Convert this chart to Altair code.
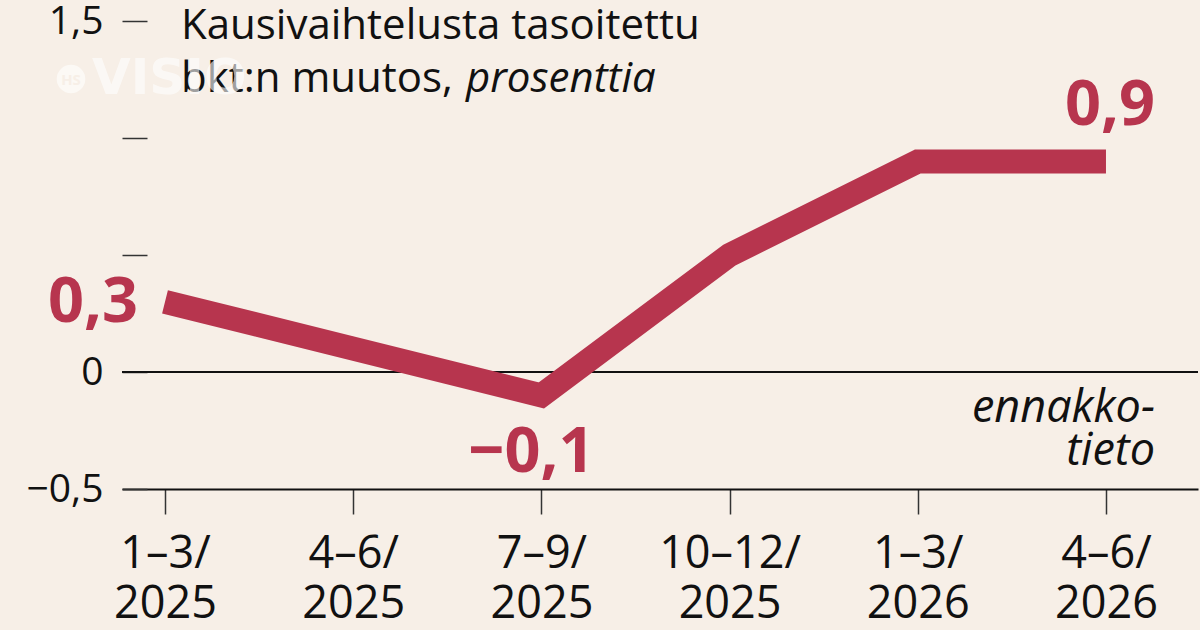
import json
import altair as alt
import pandas as pd

# Quarterly, seasonally adjusted GDP change (%)
quarters = ["1–3/|2025", "4–6/|2025", "7–9/|2025", "10–12/|2025", "1–3/|2026", "4–6/|2026"]
gdp_change = [0.3, 0.1, -0.1, 0.5, 0.9, 0.9]
y_tick_values = [1.5, 1.0, 0.5, 0.0, -0.5]
y_labelled = [1.5, 0.0, -0.5]

title_line1 = "Kausivaihtelusta tasoitettu"
title_line2a = "bkt:n muutos,"
title_line2b = "prosenttia"
note_lines = ["ennakko-", "tieto"]

BG = "#f7efe7"
RED = "#b7354e"
INK = "#111111"
FONT = "Open Sans"

df = pd.DataFrame({"i": list(range(len(gdp_change))), "value": gdp_change})

x_scale = alt.Scale(domain=[-0.2285, 5.489], nice=False, zero=False)
y_scale = alt.Scale(domain=[-0.5, 1.5], nice=False, zero=False)

quarter_js = json.dumps(quarters, ensure_ascii=False)
x_axis = alt.Axis(
    values=list(range(len(quarters))),
    labelExpr=f"split({quarter_js}[datum.value], '|')",
    title=None, grid=False,
    domain=True, domainColor=INK, domainWidth=2,
    ticks=True, tickSize=25, tickColor="#333333", tickWidth=1.5,
    labelFont=FONT, labelFontSize=45, labelColor=INK,
    labelPadding=17, labelLineHeight=50, labelFlush=False, labelOverlap=False,
)

labelled_js = json.dumps(y_labelled)
y_axis = alt.Axis(
    values=y_tick_values,
    labelExpr=(f"indexof({labelled_js}, datum.value) >= 0 ? "
               "replace(format(datum.value, '~g'), '.', ',') : ''"),
    title=None, grid=False, domain=False,
    offset=-25, ticks=True, tickSize=25, tickColor="#333333", tickWidth=1.5,
    labelFont=FONT, labelFontSize=39, labelColor=INK, labelPadding=19,
    labelFlush=False, labelOverlap=False,
)

X = alt.X("i:Q", scale=x_scale, axis=x_axis)
Y = alt.Y("value:Q", scale=y_scale, axis=y_axis)

zero_line = alt.Chart(pd.DataFrame({"value": [0.0]})).mark_rule(
    color=INK, strokeWidth=2
).encode(y=Y)

line = alt.Chart(df).mark_line(
    color=RED, strokeWidth=24, strokeCap="butt", strokeJoin="miter"
).encode(x=X, y=Y)

value_text = "replace(format(datum.value, '.1f'), '.', ',')"


def value_label(idx, **kw):
    return (
        alt.Chart(df)
        .transform_filter(alt.datum.i == idx)
        .transform_calculate(label=value_text)
        .mark_text(font=FONT, fontWeight="bold", fontSize=63, color=RED, **kw)
        .encode(x=X, y=Y, text="label:N")
    )


lab_first = value_label(0, align="right", baseline="alphabetic", dx=-27, dy=20)
lab_low = value_label(2, align="center", baseline="alphabetic", dx=-10, dy=77)
lab_last = value_label(5, align="center", baseline="alphabetic", dx=4, dy=-36)


def free_text(text, x, y, size, **kw):
    return alt.Chart(pd.DataFrame({"t": [text]})).mark_text(
        font=FONT, fontSize=size, baseline="alphabetic", **kw
    ).encode(text="t:N", x=alt.value(x), y=alt.value(y))


title1 = free_text(title_line1, 59, 18, 42, align="left", color=INK)
title2a = free_text(title_line2a, 59, 71, 42, align="left", color=INK)
title2b = free_text(title_line2b, 344, 71, 42, align="left", color=INK, fontStyle="italic")

note1 = free_text(note_lines[0], 1033, 401, 45, align="right", color=INK, fontStyle="italic")
note2 = free_text(note_lines[1], 1033, 444, 45, align="right", color=INK, fontStyle="italic")

# Faint publisher mark in the upper left, drawn over the title
mark_dot = alt.Chart(pd.DataFrame({"t": ["HS"]})).mark_point(
    filled=True, color="white", opacity=0.6, size=820, shape="circle"
).encode(x=alt.value(-51), y=alt.value(58))
mark_hs = free_text("HS", -51, 64, 15, align="center", color=BG, fontWeight="bold")
mark_word = alt.Chart(pd.DataFrame({"t": ["VISIO"]})).mark_text(
    font="DejaVu Sans", fontSize=50, fontWeight="bold", baseline="alphabetic",
    align="left", color="white", opacity=0.6,
).encode(text="t:N", x=alt.value(-30), y=alt.value(73))

chart = alt.layer(
    zero_line, line,
    lab_first, lab_low, lab_last,
    title1, title2a, title2b, note1, note2,
    mark_dot, mark_hs, mark_word,
).properties(
    width=1076, height=468,
    padding={"left": 122, "top": 21, "right": 2, "bottom": 141},
    autosize="none",
    background=BG,
).configure_view(stroke=None)

chart.save("out.html", embed_options={"renderer": "svg", "actions": False})
